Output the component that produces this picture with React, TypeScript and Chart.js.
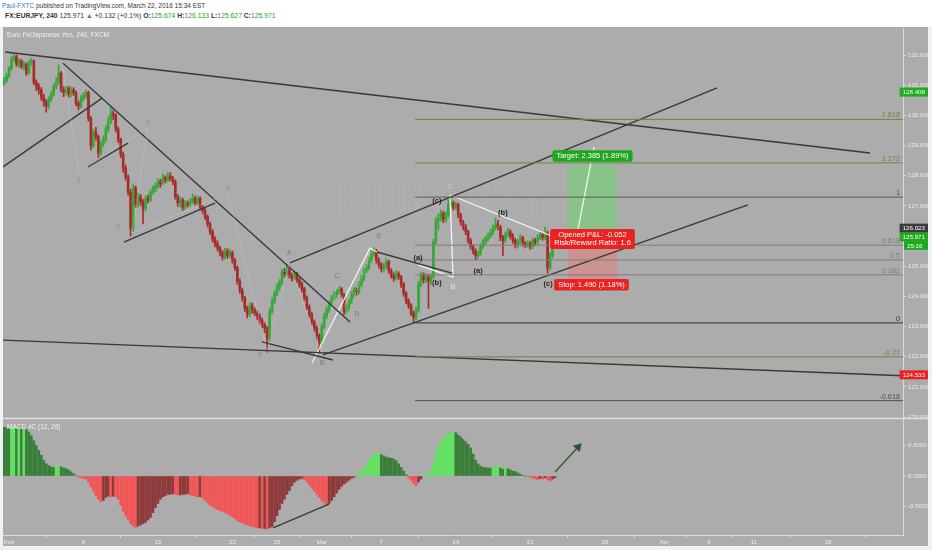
import React, { useEffect, useRef } from "react";
import { Chart, registerables } from "chart.js";

Chart.register(...registerables);

// ---------------- data ----------------
// 4h candles, bar index 0 = Feb 1 (30 bars per trading week)
const firstBar = -2;
const firstOpen = 131.05;
const closes = [
  131.15,131.30,131.55,131.85,131.95,131.70,131.80,131.62,131.70,131.40,131.75,131.80,
  131.10,130.95,130.85,130.60,130.45,130.30,130.55,130.70,130.95,131.10,131.40,130.85,
  130.75,130.90,130.70,130.85,130.75,130.40,130.30,130.55,130.65,130.75,129.90,129.00,
  129.45,129.30,128.75,129.05,129.20,129.55,129.80,130.05,130.00,129.55,129.20,128.70,
  128.25,127.95,127.45,126.25,127.60,127.05,127.30,127.15,126.90,127.25,127.20,127.45,
  127.55,127.65,127.80,127.75,127.95,127.85,128.00,127.90,127.80,127.30,127.10,127.20,
  126.95,127.10,127.05,127.15,127.25,127.10,127.25,126.95,126.85,126.65,126.40,126.15,
  125.90,125.75,125.60,125.45,125.30,125.50,125.35,125.45,125.20,124.95,124.50,124.20,
  123.95,123.60,123.40,123.70,123.55,123.45,123.35,123.20,123.05,122.95,122.60,123.50,
  123.85,124.10,124.30,124.45,124.80,124.75,124.95,124.70,124.60,124.75,124.55,124.40,
  124.25,123.95,123.65,123.40,123.15,122.95,122.70,122.45,123.00,123.35,123.55,123.75,
  123.95,124.05,124.15,124.25,124.05,123.50,123.60,123.80,124.05,124.20,124.15,124.40,
  124.60,124.85,124.95,125.20,125.40,125.50,125.20,125.05,124.90,125.00,125.15,124.85,
  124.70,124.60,124.75,124.65,124.40,124.10,123.85,123.70,123.45,123.30,123.55,124.40,
  124.70,124.55,124.65,124.50,124.65,125.80,126.50,126.60,126.75,126.55,126.70,127.05,
  127.10,126.95,127.05,126.70,126.45,126.30,126.15,125.85,125.65,125.50,125.35,125.40,
  125.65,125.80,125.90,126.00,126.10,126.25,126.40,126.30,125.95,125.85,126.05,126.15,
  126.00,125.85,125.70,125.80,125.95,125.75,125.70,125.75,125.65,125.85,125.80,125.95,
  126.05,125.95,126.10,124.95,125.35,125.674,125.971,
];
const highs = [
  131.25,131.40,131.62,131.95,132.02,132.00,131.88,131.86,131.78,131.74,131.82,131.90,
  131.84,131.18,131.05,130.92,130.70,130.52,130.62,130.80,131.05,131.25,131.67,131.45,
  130.95,130.98,130.96,130.94,130.92,130.80,130.48,130.66,130.76,130.84,130.80,129.96,
  129.55,129.60,129.35,129.15,129.32,129.66,129.95,130.30,130.16,130.06,129.62,129.25,
  128.78,128.35,128.02,127.55,127.72,127.66,127.42,127.38,127.22,127.34,127.36,127.55,
  127.66,127.76,127.90,127.88,128.05,128.00,128.12,128.10,127.98,127.86,127.38,127.30,
  127.26,127.18,127.16,127.24,127.40,127.32,127.34,127.30,127.02,126.92,126.70,126.46,
  126.22,125.98,125.84,125.66,125.52,125.60,125.58,125.56,125.50,125.26,125.00,124.58,
  124.28,124.00,123.68,123.80,123.78,123.62,123.52,123.42,123.28,123.12,123.00,123.60,
  123.95,124.20,124.42,124.56,124.90,124.92,125.04,125.00,124.78,124.84,124.80,124.62,
  124.48,124.30,124.02,123.72,123.48,123.22,123.02,122.76,123.10,123.45,123.66,123.84,
  124.04,124.16,124.24,124.34,124.30,124.10,123.72,123.90,124.16,124.30,124.28,124.50,
  124.70,124.94,125.06,125.30,125.52,125.62,125.56,125.28,125.12,125.10,125.25,125.20,
  124.92,124.78,124.84,124.82,124.70,124.46,124.16,123.92,123.76,123.52,123.64,124.50,
  124.80,124.78,124.76,124.72,124.74,125.90,126.62,126.75,126.86,126.82,126.80,127.20,
  127.36,127.16,127.14,127.10,126.76,126.52,126.38,126.20,125.92,125.72,125.58,125.50,
  125.74,125.90,126.00,126.10,126.22,126.36,126.60,126.52,126.36,126.02,126.14,126.26,
  126.22,126.08,125.92,125.90,126.04,126.00,125.82,125.84,125.82,125.94,125.92,126.04,
  126.16,126.12,126.30,126.16,125.45,125.76,126.133,
];
const lows = [
  130.98,131.08,131.25,131.50,131.78,131.62,131.60,131.55,131.50,131.32,131.36,131.66,
  131.02,130.82,130.70,130.50,130.30,130.10,130.22,130.45,130.64,130.88,131.02,130.78,
  130.62,130.66,130.60,130.62,130.66,130.32,130.18,130.25,130.48,130.58,129.80,128.85,
  128.92,129.18,128.60,128.68,128.96,129.12,129.46,129.72,129.85,129.45,129.10,128.60,
  128.12,127.85,127.35,126.00,126.15,126.95,126.96,127.02,126.40,126.82,127.10,127.14,
  127.38,127.46,127.58,127.62,127.70,127.76,127.80,127.82,127.70,127.22,126.98,126.96,
  126.85,126.88,126.96,126.98,127.08,127.02,127.04,126.86,126.74,126.55,126.30,126.05,
  125.80,125.64,125.50,125.34,125.20,125.24,125.26,125.28,125.10,124.86,124.40,124.10,
  123.84,123.50,123.28,123.34,123.44,123.36,123.24,123.10,122.95,122.80,122.15,122.52,
  123.42,123.76,124.02,124.20,124.38,124.64,124.68,124.60,124.50,124.54,124.46,124.30,
  124.14,123.86,123.56,123.30,123.05,122.84,122.58,122.15,122.38,122.92,123.26,123.46,
  123.66,123.88,123.96,124.08,123.96,123.40,123.42,123.52,123.74,123.96,124.04,124.08,
  124.32,124.52,124.78,124.88,125.12,125.32,125.10,124.94,124.80,124.82,124.92,124.76,
  124.60,124.50,124.54,124.56,124.30,124.00,123.76,123.60,123.36,123.12,123.22,123.48,
  124.32,124.44,124.46,123.60,124.40,124.58,125.72,126.20,126.50,126.44,126.46,126.62,
  126.96,126.86,126.88,126.60,126.36,126.20,126.04,125.76,125.56,125.40,125.20,125.26,
  125.34,125.58,125.72,125.82,125.92,126.02,126.18,126.20,125.84,125.35,125.78,125.98,
  125.90,125.76,125.60,125.62,125.72,125.66,125.60,125.62,125.56,125.58,125.70,125.72,
  125.88,125.86,125.88,124.77,124.88,125.28,125.627,
];
// MACD 4C (12, 26) histogram, same bars
const macdHist = [
  0.80,0.79,0.78,
  0.79,0.80,0.78,0.79,0.77,0.78,0.76,0.72,
  0.66,0.58,0.50,0.42,0.34,
  0.26,0.20,0.17,0.15,0.14,
  0.15,0.16,0.15,
  0.13,0.12,0.10,0.07,0.04,
  0.01,-0.02,-0.03,-0.04,-0.05,
  -0.10,-0.18,-0.25,-0.32,-0.38,-0.42,-0.40,
  -0.35,-0.33,-0.34,-0.33,-0.34,-0.38,
  -0.48,-0.58,-0.66,-0.72,-0.78,-0.82,-0.84,
  -0.82,-0.80,-0.78,-0.76,-0.72,-0.68,
  -0.60,-0.52,-0.45,-0.38,-0.34,
  -0.32,-0.30,-0.30,-0.29,-0.30,-0.31,-0.31,-0.30,-0.30,-0.29,-0.31,-0.32,-0.33,-0.34,-0.34,
  -0.36,-0.40,-0.44,-0.48,-0.50,-0.53,-0.55,-0.57,-0.58,-0.60,-0.62,
  -0.64,-0.67,-0.70,-0.73,-0.75,-0.77,-0.79,-0.80,-0.82,-0.83,
  -0.84,-0.85,-0.85,-0.86,-0.86,-0.87,-0.85,-0.83,
  -0.75,-0.65,-0.55,-0.45,-0.38,-0.30,-0.24,
  -0.16,-0.10,-0.07,-0.05,-0.04,
  -0.06,-0.10,-0.15,-0.20,-0.25,-0.30,-0.35,-0.40,-0.44,-0.47,
  -0.45,-0.40,-0.34,-0.28,-0.22,-0.17,-0.13,-0.10,-0.07,-0.04,
  -0.02,0.00,
  0.04,0.08,0.12,0.18,0.26,
  0.31,0.34,0.36,0.37,0.35,
  0.33,0.31,0.30,0.29,0.28,0.25,0.20,
  0.14,0.08,0.02,
  -0.03,-0.07,-0.12,-0.16,-0.10,-0.05,
  0.02,0.04,0.05,0.08,
  0.20,0.38,0.48,0.56,0.62,
  0.66,0.69,0.71,0.72,0.71,
  0.67,0.64,0.60,0.56,0.52,0.46,
  0.36,0.26,0.20,0.16,
  0.14,0.14,0.13,0.13,0.14,0.15,
  0.17,0.13,0.11,0.16,0.12,
  0.10,0.08,0.07,0.05,0.03,
  0.01,0.00,-0.01,
  -0.02,-0.03,-0.05,-0.06,-0.04,-0.05,-0.03,-0.06,-0.08,-0.05,-0.03,
];

const xTickBars = [0, 30, 60, 90, 108, 126, 150, 180, 210, 240, 264, 282, 300, 330];
const xTickLabels = ["Feb", "8", "15", "22", "25", "Mar", "7", "14", "21", "28", "Apr", "6", "11", "18"];
const priceTicks = [120, 121, 122, 123, 124, 125, 126, 127, 128, 129, 130, 131, 132];
const macdTicks = [-0.5, 0, 0.5];

// visible ranges
const xMin = -2.42;
const xMax = 360.2;
const priceMin = 119.968;
const priceMax = 132.895;
const macdMin = -0.967;
const macdMax = 0.951;

// Fibonacci retracement
const fibLevels = [1.618, 1.272, 1, 0.618, 0.5, 0.382, 0, -0.27, -0.618];
const fibLabels = ["1.618", "1.272", "1", "0.618", "0.5", "0.382", "0", "-0.27", "-0.618"];
const fibZero = 123.12;
const fibOne = 127.29;
const fibStartBar = 163.6;

// trend lines: [bar, price] anchors
const darkLines = [
  [[-1.6, 132.1], [346.9, 128.75]],
  [[-2.4, 122.55], [360.2, 121.37]],
  [[21.8, 131.73], [137.4, 123.15]],
  [[-2.4, 128.29], [37.5, 130.57]],
  [[31.8, 128.29], [47.9, 129.08]],
  [[46.3, 125.8], [83.0, 127.09]],
  [[101.9, 122.49], [130.5, 121.89]],
  [[113.2, 125.11], [285.3, 130.91]],
  [[126.5, 122.06], [297.7, 127.03]],
  [[148.3, 125.47], [178.5, 124.77]],
];
const thinGrayLines = [
  [[188.6, 125.14], [199.0, 126.55], [217.2, 124.67]],
  [[21.5, 131.7], [28.2, 128.1], [56.0, 129.6], [49.5, 126.1], [88.2, 127.4], [104.0, 122.2]],
  [[104.0, 122.2], [112.8, 125.04], [126.0, 122.15], [132.2, 124.4], [136.5, 123.4], [146.5, 125.6]],
];
const whiteLines = [
  [[122.1, 121.79], [145.4, 125.6], [148.3, 125.47]],
  [[177.7, 127.36], [178.9, 124.64]],
  [[164.8, 125.04], [178.9, 124.64]],
  [[177.7, 127.36], [220.8, 125.93]],
  [[229.2, 126.2], [235.7, 128.95]],
];
const macdDivergence = [[106.4, -0.85], [128.9, -0.46]];
const macdArrow = [[220.0, 0.066], [229.3, 0.475]];

// Elliott wave labels
const waveText = ["1", "2", "3", "4", "5", "A", "B", "C", "D", "E", "(a)", "(b)", "(c)", "C", "B", "(b)", "(a)", "(c)"];
const waveBar = [28.2, 56.0, 43.9, 88.2, 101.1, 112.8, 126.1, 132.2, 140.2, 149.1, 164.8, 172.4, 172.4, 177.7, 178.9, 199.0, 189.0, 217.2];
const wavePrice = [127.86, 129.75, 126.3, 127.59, 122.06, 125.44, 121.79, 124.67, 123.42, 126.0, 125.27, 124.44, 127.16, 127.62, 124.31, 126.76, 124.84, 124.41];

// long position tool
const posStartBar = 225.2;
const posEndBar = 245.0;
const entryPrice = 125.971;
const targetDist = 2.385;
const stopDist = 1.49;
const targetText = "Target: 2.385 (1.89%)";
const pnlText = ["Opened P&L: -0.052", "Risk/Reward Ratio: 1.6"];
const stopText = "Stop: 1.490 (1.18%)";

// price tags on the right axis
const tagTexts = ["128.408", "126.023", "125.971", "25:16", "124.533"];
const tagPrices = [130.77, 126.26, 125.971, 125.69, 121.4];

// ---------------- styles ----------------
const FONT = '"Liberation Sans", Arial, sans-serif';
const BG = "#acacac";
const AXIS_TEXT = "#ececec";
const AXIS_LINE = "#dadada";
const UP = "#36a836";
const DOWN = "#a82a2a";
const LIME = "#62e262";
const DKGREEN = "#3a7e3a";
const RED = "#f05656";
const MAROON = "#8e3a3a";
const DARK_LINE = "#383838";
const fibColors = ["#66873f", "#66873f", "#5a5a5a", "#7c7c7c", "#7c7c7c", "#7c7c7c", "#333333", "#66873f", "#505050"];
const waveColors = ["#8a8a8a", "#8a8a8a", "#8a8a8a", "#8a8a8a", "#8a8a8a", "#7a7a7a", "#7a7a7a", "#7a7a7a", "#7a7a7a", "#7a7a7a",
  "#262626", "#262626", "#262626", "#d0d0d0", "#e8e8e8", "#262626", "#262626", "#262626"];
const tagColors = ["#1faa1f", "#3a3a3a", "#1faa1f", "#1faa1f", "#ee2020"];

function lineDs(points: number[][], color: string, width: number, axis = "y", extra: any = {}) {
  return {
    type: "line" as const,
    data: points.map((p) => ({ x: p[0], y: p[1] })),
    borderColor: color,
    borderWidth: width,
    pointRadius: 0,
    tension: 0,
    fill: false,
    yAxisID: axis,
    order: 0,
    ...extra,
  };
}

function drawBox(ctx: CanvasRenderingContext2D, lines: string[], cx: number, cy: number, bg: string) {
  ctx.font = `7.5px ${FONT}`;
  const w = Math.max(...lines.map((l) => ctx.measureText(l).width)) + 8;
  const lh = 8.5;
  const h = lines.length * lh + 3;
  ctx.fillStyle = bg;
  ctx.beginPath();
  (ctx as any).roundRect(cx - w / 2, cy - h / 2, w, h, 2);
  ctx.fill();
  ctx.fillStyle = "#ffffff";
  ctx.textAlign = "center";
  ctx.textBaseline = "middle";
  lines.forEach((l, k) => ctx.fillText(l, cx, cy - h / 2 + 1.5 + lh * k + lh / 2));
}

const decor = {
  id: "tvDecor",
  beforeDraw(chart: any) {
    const { ctx, chartArea } = chart;
    const ys = chart.scales.y;
    const xs = chart.scales.x;
    ctx.save();
    ctx.fillStyle = BG;
    ctx.fillRect(chartArea.left, 0, ys.right - chartArea.left, xs.bottom);
    ctx.restore();
  },
  beforeDatasetsDraw(chart: any) {
    const { ctx } = chart;
    const xs = chart.scales.x;
    const ys = chart.scales.y;
    ctx.save();
    // watermark
    ctx.font = `bold 54px ${FONT}`;
    ctx.fillStyle = "rgba(255,255,255,0.035)";
    ctx.textAlign = "center";
    ctx.textBaseline = "middle";
    ctx.fillText("EURJPY", (xs.left + xs.right) / 2 - 10, (ys.top + ys.bottom) / 2 - 22);
    // position tool
    const x0 = xs.getPixelForValue(posStartBar);
    const x1 = xs.getPixelForValue(posEndBar);
    const yE = ys.getPixelForValue(entryPrice);
    const yT = ys.getPixelForValue(entryPrice + targetDist);
    const yS = ys.getPixelForValue(entryPrice - stopDist);
    ctx.fillStyle = "rgba(110,215,110,0.55)";
    ctx.fillRect(x0, yT, x1 - x0, yE - yT);
    ctx.fillStyle = "rgba(235,120,120,0.5)";
    ctx.fillRect(x0, yE, x1 - x0, yS - yE);
    ctx.restore();
  },
  afterDatasetsDraw(chart: any) {
    const { ctx } = chart;
    const xs = chart.scales.x;
    const ys = chart.scales.y;
    const y2 = chart.scales.y2;
    ctx.save();
    // fib labels
    ctx.font = `7.3px ${FONT}`;
    ctx.textAlign = "right";
    ctx.textBaseline = "alphabetic";
    fibLevels.forEach((lv, k) => {
      const p = fibZero + lv * (fibOne - fibZero);
      ctx.fillStyle = fibColors[k];
      ctx.fillText(fibLabels[k], xs.right - 3, ys.getPixelForValue(p) - 2);
    });
    // wave labels
    ctx.textAlign = "center";
    ctx.textBaseline = "middle";
    waveText.forEach((t, k) => {
      ctx.font = t.startsWith("(") ? `bold 7.5px ${FONT}` : `7px ${FONT}`;
      ctx.fillStyle = waveColors[k];
      ctx.fillText(t, xs.getPixelForValue(waveBar[k]), ys.getPixelForValue(wavePrice[k]));
    });
    // position labels
    const cx = xs.getPixelForValue((posStartBar + posEndBar) / 2);
    const yE = ys.getPixelForValue(entryPrice);
    const yT = ys.getPixelForValue(entryPrice + targetDist);
    const yS = ys.getPixelForValue(entryPrice - stopDist);
    drawBox(ctx, [targetText], cx, yT - 9, "#1fa81f");
    drawBox(ctx, pnlText, cx, yE + 2, "#ea2222");
    drawBox(ctx, [stopText], cx - 1, yS + 3, "#ea2222");
    // titles
    ctx.font = `6.5px ${FONT}`;
    ctx.textAlign = "left";
    ctx.textBaseline = "middle";
    ctx.fillStyle = "#f2f2f2";
    ctx.fillText("Euro Fx/Japanese Yen, 240, FXCM", xs.left + 4, ys.top + 7);
    ctx.fillText("MACD 4C (12, 26)", xs.left + 4, y2.top + 9);
    ctx.restore();
  },
  afterDraw(chart: any) {
    const { ctx } = chart;
    const ys = chart.scales.y;
    const xs = chart.scales.x;
    ctx.save();
    // panel separator
    ctx.strokeStyle = "#e0e0e0";
    ctx.lineWidth = 1.5;
    ctx.beginPath();
    ctx.moveTo(xs.left, ys.bottom + 0.5);
    ctx.lineTo(ys.right, ys.bottom + 0.5);
    ctx.stroke();
    // tags
    ctx.font = `6.2px ${FONT}`;
    ctx.textBaseline = "middle";
    ctx.textAlign = "left";
    tagTexts.forEach((t, k) => {
      const y = ys.getPixelForValue(tagPrices[k]);
      const w = ctx.measureText(t).width + 6;
      const x = Math.min(ys.right - w, ys.left + 1);
      ctx.fillStyle = tagColors[k];
      ctx.fillRect(x, y - 4.5, ys.right - x, 9);
      ctx.fillStyle = "#ffffff";
      ctx.fillText(t, x + 3, y + 0.5);
    });
    ctx.restore();
  },
};

const noPad = (s: any) => {
  s.paddingTop = 0;
  s.paddingBottom = 0;
  s.paddingLeft = 0;
  s.paddingRight = 0;
};

export default function App() {
  const ref = useRef<HTMLCanvasElement | null>(null);

  useEffect(() => {
    const canvas = ref.current;
    if (!canvas) return;
    const opens = closes.map((c, i) => (i === 0 ? firstOpen : closes[i - 1]));
    const candleColors = closes.map((c, i) => (c >= opens[i] ? UP : DOWN));
    const macdColors = macdHist.map((v, i) => {
      const prev = i > 0 ? macdHist[i - 1] : v;
      if (v >= 0) return v > prev ? LIME : DKGREEN;
      return v < prev ? RED : MAROON;
    });
    const fibEnd = xMax;
    const datasets: any[] = [
      {
        type: "bar",
        data: closes.map((c, i) => ({ x: firstBar + i, y: [lows[i], highs[i]] })),
        backgroundColor: candleColors,
        barThickness: 1,
        grouped: false,
        yAxisID: "y",
        order: 3,
      },
      {
        type: "bar",
        data: closes.map((c, i) => ({ x: firstBar + i, y: [opens[i], c] })),
        backgroundColor: candleColors,
        barThickness: 2,
        minBarLength: 1,
        grouped: false,
        yAxisID: "y",
        order: 2,
      },
      {
        type: "bar",
        data: macdHist.map((v, i) => ({ x: firstBar + i, y: v })),
        backgroundColor: macdColors,
        barThickness: 2,
        grouped: false,
        yAxisID: "y2",
        order: 2,
      },
    ];
    fibLevels.forEach((lv, k) => {
      const p = fibZero + lv * (fibOne - fibZero);
      datasets.push(lineDs([[fibStartBar, p], [fibEnd, p]], fibColors[k], 1));
    });
    thinGrayLines.forEach((l) => datasets.push(lineDs(l, "rgba(215,215,215,0.35)", 0.8)));
    darkLines.forEach((l) => datasets.push(lineDs(l, DARK_LINE, 1.4)));
    whiteLines.forEach((l) => datasets.push(lineDs(l, "rgba(255,255,255,0.85)", 1.3)));
    datasets.push(lineDs(macdDivergence, DARK_LINE, 1.3, "y2"));
    datasets.push(
      lineDs(macdArrow, "#2c5a2c", 1.3, "y2", {
        pointRadius: [0, 4],
        pointStyle: "triangle",
        pointRotation: [0, 43],
        pointBackgroundColor: "#2c5a2c",
        pointBorderColor: "#2c5a2c",
      })
    );

    const tickFont = { size: 6.2, family: FONT };
    const chart = new Chart(canvas, {
      type: "bar",
      data: { datasets },
      options: {
        animation: false,
        responsive: false,
        maintainAspectRatio: false,
        devicePixelRatio: 1,
        events: [],
        layout: { autoPadding: false, padding: { left: 3, top: 1, right: 4, bottom: 4 } },
        plugins: { legend: { display: false }, tooltip: { enabled: false }, title: { display: false } },
        scales: {
          x: {
            type: "linear",
            min: xMin,
            max: xMax,
            offset: false,
            grid: { display: true, drawOnChartArea: false, tickLength: 3, color: AXIS_LINE },
            border: { display: true, color: AXIS_LINE },
            afterBuildTicks: (s: any) => {
              s.ticks = xTickBars.map((v) => ({ value: v }));
            },
            afterFit: (s: any) => {
              s.height = 11;
              noPad(s);
            },
            ticks: {
              autoSkip: false,
              maxRotation: 0,
              padding: 1,
              color: AXIS_TEXT,
              font: tickFont,
              callback: (v: any) => {
                const k = xTickBars.indexOf(Number(v));
                return k >= 0 ? xTickLabels[k] : "";
              },
            },
          },
          y: {
            type: "linear",
            position: "right",
            stack: "v",
            stackWeight: 390,
            min: priceMin,
            max: priceMax,
            grid: { display: true, drawOnChartArea: false, tickLength: 3, color: AXIS_LINE },
            border: { display: true, color: AXIS_LINE },
            afterBuildTicks: (s: any) => {
              s.ticks = priceTicks.map((v) => ({ value: v }));
            },
            afterFit: (s: any) => {
              s.width = 25;
              noPad(s);
            },
            ticks: {
              padding: 2,
              color: AXIS_TEXT,
              font: tickFont,
              callback: (v: any) => Number(v).toFixed(3),
            },
          },
          y2: {
            type: "linear",
            position: "right",
            stack: "v",
            stackWeight: 117,
            min: macdMin,
            max: macdMax,
            grid: { display: true, drawOnChartArea: false, tickLength: 3, color: AXIS_LINE },
            border: { display: true, color: AXIS_LINE },
            afterBuildTicks: (s: any) => {
              s.ticks = macdTicks.map((v) => ({ value: v }));
            },
            afterFit: (s: any) => {
              s.width = 25;
              noPad(s);
            },
            ticks: {
              padding: 2,
              color: AXIS_TEXT,
              font: tickFont,
              callback: (v: any) => Number(v).toFixed(4),
            },
          },
        },
      } as any,
      plugins: [decor],
    });
    return () => chart.destroy();
  }, []);

  const green = { color: "#2aa22a" };
  return (
    <div style={{ position: "absolute", left: 0, top: 0, width: 932, height: 550, background: "#eff2f5", overflow: "hidden" }}>
      <div style={{ position: "absolute", left: 0, top: 0, width: 932, height: 27, background: "#ffffff" }} />
      <div style={{ position: "absolute", left: 2, top: 1, fontFamily: FONT, fontSize: 6.5, lineHeight: "10px", color: "#333", whiteSpace: "nowrap" }}>
        <span style={{ color: "#2f7cc7" }}>Paul-FXTC</span> published on TradingView.com, March 22, 2016 15:34 EST
      </div>
      <div style={{ position: "absolute", left: 5, top: 11, fontFamily: FONT, fontSize: 6.8, lineHeight: "10px", color: "#333", whiteSpace: "nowrap" }}>
        <b>FX:EURJPY, 240</b> 125.971 <span style={green}>▲</span> +0.132 (+0.1%) <b>O:</b><span style={green}>125.674</span>{" "}
        <b>H:</b><span style={green}>126.133</span> <b>L:</b><span style={green}>125.627</span> <b>C:</b><span style={green}>125.971</span>
      </div>
      <canvas ref={ref} width={932} height={523} style={{ position: "absolute", left: 0, top: 27, width: 932, height: 523 }} />
    </div>
  );
}
